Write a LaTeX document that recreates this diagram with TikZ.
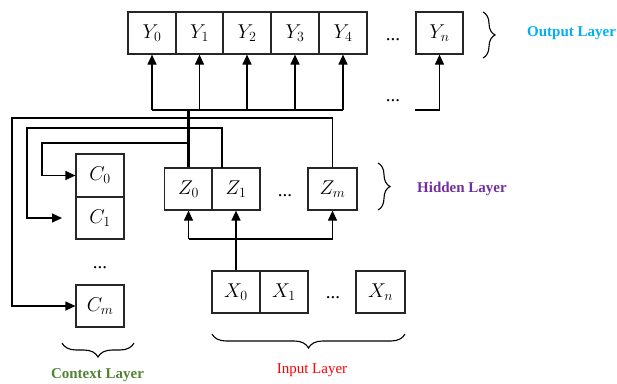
\RequirePackage{fix-cm}
\documentclass[tikz,border=0pt]{standalone}
\usepackage{fontspec}
\newfontfamily\labelfont{Liberation Serif}
\usetikzlibrary{arrows.meta,decorations.pathreplacing}
\definecolor{outblue}{HTML}{00B0F0}
\definecolor{hidpurple}{HTML}{7030A0}
\definecolor{ctxgreen}{HTML}{548235}
\definecolor{inred}{HTML}{FF0000}
\begin{document}
\begin{tikzpicture}[x=1pt,y=-1pt,
  cell/.style={draw=black!85,line width=1.2pt,minimum width=48pt,minimum height=42pt,
               inner sep=0pt,font=\fontsize{20}{24}\selectfont},
  wire/.style={line width=1.2pt},
  feed/.style={wire,-{Triangle[length=10pt,width=9pt]}},
  gap/.style={font=\labelfont\fontsize{19}{20}\selectfont,anchor=base,inner sep=0pt},
  bracket/.style={decorate,decoration={brace,amplitude=#1},line width=1.1pt},
  layer/.style={font=\labelfont\fontsize{15}{18}\selectfont,inner sep=0pt},
  boldlayer/.style={layer,font=\labelfont\bfseries\fontsize{15}{18}\selectfont}]
\useasboundingbox (0,0) rectangle (617,383);

% output layer
\node[cell] (Y0) at (152,33) {$Y_0$};
\node[cell] (Y1) at (199.5,33) {$Y_1$};
\node[cell] (Y2) at (247,33) {$Y_2$};
\node[cell] (Y3) at (295,33) {$Y_3$};
\node[cell] (Y4) at (343,33) {$Y_4$};
\node[gap] (ydots) at (393,40) {...};
\node[cell,minimum width=47pt] (Yn) at (439.5,33) {$Y_n$};

% hidden layer
\node[cell] (Z0) at (188.5,189) {$Z_0$};
\node[cell] (Z1) at (236,189) {$Z_1$};
\node[gap] (zdots) at (285,196) {...};
\node[cell,minimum width=49pt] (Zm) at (332.5,189) {$Z_m$};

% context layer
\node[cell,minimum height=43pt] (C0) at (100,175.5) {$C_0$};
\node[cell] (C1) at (100,218) {$C_1$};
\node[gap] (cdots) at (100,268) {...};
\node[cell] (Cm) at (100,306) {$C_m$};

% input layer
\node[cell] (X0) at (236,292) {$X_0$};
\node[cell] (X1) at (284,292) {$X_1$};
\node[gap] (xdots) at (333,298) {...};
\node[cell,minimum width=49pt] (Xn) at (380.5,292) {$X_n$};

% hidden -> output bus
\coordinate (bus) at (0,110);
\coordinate (busend) at (415,110);
\node[gap] (busdots) at (393,101) {...};
\draw[line width=2.2pt] (Z0.north) -- (Z0.north |- bus);
\draw[wire] (Y0.south |- bus) -- (Y4.south |- bus);
\foreach \k in {0,...,4}{\draw[feed] (Y\k.south |- bus) -- (Y\k.south);}
\draw[feed] (busend) -- (Yn.south |- bus) -- (Yn.south);

% hidden -> context copies
\coordinate (c0turn) at (42,143);
\coordinate (c1turn) at (27,128);
\coordinate (c1tip) at (62,218);
\coordinate (cmturn) at (12,118);
\coordinate (z1tap) at (222,168);
\draw[feed] (Z0.north |- c0turn) -- (c0turn) -- (c0turn |- C0.west) -- (C0.west);
\draw[feed] (z1tap) -- (z1tap |- c1turn) -- (c1turn) -- (c1turn |- c1tip) -- (c1tip);
\draw[feed] (Zm.north) -- (Zm.north |- cmturn) -- (cmturn) -- (cmturn |- Cm.west) -- (Cm.west);

% input -> hidden
\coordinate (inbus) at (0,239);
\draw[line width=1.6pt] (X0.north) -- (X0.north |- inbus);
\draw[wire] (Z0.south |- inbus) -- (Zm.south |- inbus);
\draw[feed] (Z0.south |- inbus) -- (Z0.south);
\draw[feed,line width=1.6pt] (X0.north |- inbus) -- (Z1.south);
\draw[feed] (Zm.south |- inbus) -- (Zm.south);

% braces and layer names
\draw[bracket=12pt] (483,12) -- (483,58);
\node[boldlayer,text=outblue,anchor=west] (outlbl) at (527,33) {Output Layer};
\draw[bracket=12pt] (378,163) -- (378,210);
\node[boldlayer,text=hidpurple,anchor=west] (hidlbl) at (417,189) {Hidden Layer};
\draw[bracket=14pt] (134,343) -- (62,343);
\node[boldlayer,text=ctxgreen] (ctxlbl) at (97.5,375) {Context Layer};
\draw[bracket=14pt] (405,334) -- (212,334);
\node[layer,text=inred] (inlbl) at (312,370) {Input Layer};
\end{tikzpicture}
\end{document}
